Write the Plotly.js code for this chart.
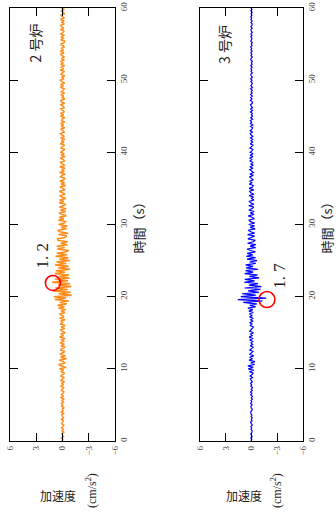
<!DOCTYPE html>
<html>
<head>
<meta charset="utf-8">
<script src="https://cdn.plot.ly/plotly-3.0.1.min.js"></script>
<style>
html,body{margin:0;padding:0;background:#fff;}
#chart{width:336px;height:519px;}
</style>
</head>
<body>
<div id="chart"></div>
<script>
// Time sampling (s): start and step
const timeStart = 0;
const timeStep = 0.2;
const timeTicks = [0, 10, 20, 30, 40, 50, 60];
const accTicks = [6, 3, 0, -3, -6];
const accTickText = ['6', '3', '0', '\u22123', '\u22126'];

// 2号炉 acceleration (cm/s^2), every 0.2 s from 0 to 60 s
const unit2 = [
 0.10,-0.04,0.13,-0.11,0.02,0.08,-0.14,0.05,-0.09,0.12,
 -0.03,-0.15,0.10,0.04,-0.08,0.14,-0.12,0.01,0.09,-0.13,
 0.15,-0.06,0.03,-0.16,0.11,-0.02,0.13,-0.10,0.06,-0.14,
 0.17,-0.08,0.12,-0.03,-0.16,0.14,0.02,-0.12,0.18,-0.07,
 0.08,-0.22,0.19,0.04,-0.15,0.23,-0.09,-0.24,0.17,-0.12,
 0.33,-0.41,0.12,0.44,-0.28,-0.10,0.39,-0.45,0.22,-0.33,
 0.29,-0.08,-0.27,0.24,0.05,-0.30,0.18,-0.21,0.28,-0.12,
 0.09,-0.29,0.33,-0.14,0.20,-0.31,0.06,0.27,-0.25,0.15,
 -0.32,0.28,-0.07,0.22,-0.29,0.31,-0.18,0.10,0.34,-0.27,
 0.16,-0.36,0.45,-0.22,0.57,-0.50,0.30,-0.72,0.88,-0.40,
 1.00,-1.05,0.45,-0.95,1.08,-0.60,0.82,-1.00,0.50,-0.88,
 1.20,-0.62,0.85,-0.80,0.40,-0.74,0.90,-0.30,0.78,-0.85,
 0.48,-0.70,0.86,-0.42,0.68,-0.84,0.35,-0.66,0.80,-0.52,
 0.64,-0.30,-0.72,0.58,-0.25,0.66,-0.56,0.20,-0.60,0.52,
 0.57,-0.22,-0.50,0.46,-0.62,0.30,0.55,-0.46,0.18,-0.54,
 0.44,-0.20,-0.40,0.46,-0.15,0.37,-0.45,0.12,0.41,-0.38,
 0.22,-0.41,0.35,-0.10,-0.36,0.39,-0.18,0.33,-0.38,0.08,
 0.32,-0.29,0.14,0.36,-0.31,-0.06,0.30,-0.34,0.19,-0.26,
 0.29,-0.12,-0.31,0.24,0.07,-0.29,0.33,-0.20,0.11,-0.30,
 0.31,-0.26,0.05,0.28,-0.23,-0.09,0.27,-0.31,0.16,-0.20,
 0.25,-0.10,-0.27,0.22,0.04,-0.25,0.28,-0.16,0.13,-0.26,
 0.24,-0.21,0.08,0.26,-0.19,-0.05,0.22,-0.25,0.17,-0.12,
 0.22,-0.25,0.11,0.03,-0.26,0.23,-0.14,0.25,-0.22,0.06,
 0.21,-0.18,-0.07,0.25,-0.24,0.12,0.20,-0.27,0.09,-0.15,
 0.20,-0.24,0.15,-0.06,-0.21,0.26,-0.11,0.22,-0.25,0.04,
 0.24,-0.17,0.10,-0.26,0.18,0.02,-0.22,0.25,-0.13,0.19,
 -0.24,0.21,-0.08,0.25,-0.20,0.14,-0.23,0.06,0.22,-0.19,
 0.24,-0.12,0.16,-0.22,0.03,0.23,-0.18,-0.25,0.20,-0.09,
 0.17,-0.23,0.22,-0.05,-0.20,0.24,-0.15,0.10,0.21,-0.22,
 0.13,-0.19,0.24,-0.21,0.07,0.23,-0.20,-0.11,0.18,-0.21,
 0.12
];

// 3号炉 acceleration (cm/s^2), every 0.2 s from 0 to 60 s
const unit3 = [
 0.06,-0.03,0.08,-0.07,0.01,0.09,-0.05,-0.08,0.04,-0.02,
 0.07,-0.09,0.03,0.10,-0.06,0.02,-0.08,0.05,-0.04,0.08,
 0.09,-0.06,-0.10,0.04,0.07,-0.08,0.11,-0.03,0.06,-0.09,
 0.02,-0.11,0.10,-0.05,0.12,-0.09,0.04,-0.12,0.08,-0.03,
 0.11,-0.10,0.05,0.14,-0.12,0.16,-0.07,-0.19,0.24,-0.28,
 0.38,-0.20,0.42,-0.36,0.10,-0.40,0.28,-0.12,0.22,-0.26,
 0.18,-0.05,-0.17,0.20,0.03,-0.19,0.14,-0.13,0.06,-0.15,
 0.22,-0.18,0.26,-0.08,0.12,-0.24,0.20,0.04,-0.16,-0.22,
 0.18,-0.06,0.20,-0.17,0.09,-0.19,0.22,-0.10,0.25,-0.21,
 0.30,-0.15,0.42,-0.50,0.20,-0.62,0.95,-1.30,1.60,-1.70,
 1.25,-0.50,1.10,-0.85,0.40,-1.05,0.80,-1.15,0.30,-0.75,
 0.85,-0.35,0.78,-0.88,0.25,-0.72,0.80,-0.20,0.70,-0.76,
 0.62,-0.18,0.68,-0.50,0.22,-0.64,0.52,-0.48,0.60,-0.15,
 0.50,-0.45,0.12,0.52,-0.48,0.16,-0.50,0.46,-0.20,-0.44,
 0.42,-0.10,-0.38,0.45,-0.36,0.08,0.40,-0.43,0.15,-0.34,
 0.33,-0.36,0.12,0.30,-0.34,-0.05,0.37,-0.29,0.14,-0.31,
 0.30,-0.08,-0.26,0.32,-0.28,0.10,0.25,-0.30,0.04,-0.24,
 0.25,-0.28,0.09,0.22,-0.26,0.27,-0.11,-0.21,0.24,-0.07,
 0.22,-0.19,0.05,0.24,-0.21,0.18,-0.23,0.03,0.20,-0.17,
 0.18,-0.21,0.06,-0.19,0.20,-0.04,0.18,-0.17,0.15,-0.19,
 0.16,-0.05,-0.15,0.18,0.02,-0.17,0.15,-0.12,0.06,-0.14,
 0.13,-0.15,0.04,0.14,-0.11,0.16,-0.06,-0.13,0.11,-0.15,
 0.12,-0.03,0.14,-0.12,0.10,-0.13,0.02,-0.09,0.13,-0.11,
 0.10,-0.12,0.04,0.11,-0.10,-0.08,0.12,-0.05,0.09,-0.10,
 0.11,-0.08,0.03,-0.09,0.10,-0.11,0.07,0.02,-0.10,0.08,
 -0.07,0.09,-0.10,0.04,0.08,-0.09,0.06,-0.03,0.07,-0.08,
 0.09,-0.07,0.02,-0.10,0.08,0.05,-0.09,0.06,-0.04,0.08,
 -0.08,0.07,-0.03,0.09,-0.07,0.04,-0.09,0.08,0.01,-0.06,
 0.08,-0.06,0.07,-0.09,0.03,0.06,-0.07,0.08,-0.05,-0.08,
 0.06,-0.08,0.07,-0.02,0.08,-0.06,0.04,-0.08,0.07,-0.05,
 0.06
];

// Peak values and labels
const peakLabels = ['1. 2', '1. 7'];
const unitLabels = ['2 号炉', '3 号炉'];
const peak2 = {t: 21.9, a: 1.1};
const peak3 = {t: 19.6, a: -1.8};

const serif = '"Liberation Serif", "DejaVu Serif", "Noto Sans CJK JP", serif';
const cjk = '"Noto Sans CJK JP", "Liberation Serif", sans-serif';

function accAxis(domain, anchor) {
  return {
    domain: domain, anchor: anchor,
    range: [6, -6], tickvals: accTicks, ticktext: accTickText,
    tickangle: -90, ticks: 'inside', ticklen: 8, tickwidth: 1.3, tickcolor: '#000',
    showline: true, linecolor: '#000', linewidth: 1.3, mirror: 'allticks',
    showgrid: false, zeroline: false, fixedrange: true,
    tickfont: {family: serif, size: 9, color: '#444'}
  };
}
function timeAxis(domain, anchor) {
  return {
    domain: domain, anchor: anchor, side: 'right',
    range: [0, 60], tickvals: timeTicks,
    tickangle: -90, ticks: 'inside', ticklen: 8, tickwidth: 1.3, tickcolor: '#000',
    showline: true, linecolor: '#000', linewidth: 1.3, mirror: 'allticks',
    showgrid: false, zeroline: false, fixedrange: true,
    tickfont: {family: serif, size: 9, color: '#444'},
    title: {text: '時間（s）', standoff: 6, font: {family: cjk, size: 13, color: '#222'}}
  };
}

const traces = [
  {x: unit2, y0: timeStart, dy: timeStep, type: 'scatter', mode: 'lines',
   line: {color: '#ff8c1a', width: 1.5}, xaxis: 'x', yaxis: 'y', hoverinfo: 'skip'},
  {x: unit3, y0: timeStart, dy: timeStep, type: 'scatter', mode: 'lines',
   line: {color: '#0000ff', width: 1.2}, xaxis: 'x2', yaxis: 'y2', hoverinfo: 'skip'}
];

function label(text, xref, yref, x, y, angle, font) {
  return {text: text, xref: xref, yref: yref, x: x, y: y, showarrow: false,
          xanchor: 'center', yanchor: 'middle', textangle: angle, font: font};
}

const layout = {
  width: 336, height: 519,
  margin: {l: 0, r: 0, t: 0, b: 0},
  paper_bgcolor: '#fff', plot_bgcolor: '#fff',
  showlegend: false,
  xaxis: accAxis([0.0298, 0.3423], 'y'),
  yaxis: timeAxis([0.1503, 0.9846], 'x'),
  xaxis2: accAxis([0.5952, 0.9018], 'y2'),
  yaxis2: timeAxis([0.1503, 0.9846], 'x2'),
  shapes: [
    {type: 'circle', xref: 'x', yref: 'y', xsizemode: 'pixel', ysizemode: 'pixel',
     xanchor: peak2.a, yanchor: peak2.t, x0: -7.5, x1: 7.5, y0: -7.5, y1: 7.5,
     line: {color: '#ff0000', width: 1.6}},
    {type: 'circle', xref: 'x2', yref: 'y2', xsizemode: 'pixel', ysizemode: 'pixel',
     xanchor: peak3.a, yanchor: peak3.t, x0: -8, x1: 8, y0: -8, y1: 8,
     line: {color: '#ff0000', width: 1.6}}
  ],
  annotations: [
    label(peakLabels[0], 'x', 'y', 2.23, 25.7, -90, {family: serif, size: 17, color: '#222'}),
    label(peakLabels[1], 'x2', 'y2', -3.33, 22.9, -90, {family: serif, size: 17, color: '#222'}),
    label(unitLabels[0], 'x', 'y', 3.14, 55.1, -90, {family: cjk, size: 14, color: '#222'}),
    label(unitLabels[1], 'x2', 'y2', 3.21, 55.0, -90, {family: cjk, size: 14, color: '#222'}),
    label('加速度', 'paper', 'paper', 0.1726, 0.0462, 0, {family: cjk, size: 12, color: '#222'}),
    label('(cm/s<sup>2</sup>)', 'paper', 'paper', 0.2738, 0.0559, -90, {family: serif, size: 12, color: '#222'}),
    label('加速度', 'paper', 'paper', 0.7262, 0.0462, 0, {family: cjk, size: 12, color: '#222'}),
    label('(cm/s<sup>2</sup>)', 'paper', 'paper', 0.8244, 0.0559, -90, {family: serif, size: 12, color: '#222'})
  ]
};

Plotly.newPlot('chart', traces, layout, {staticPlot: true, displayModeBar: false});
</script>
</body>
</html>
